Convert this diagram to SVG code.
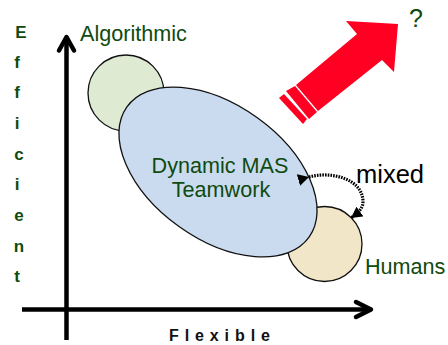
<svg xmlns="http://www.w3.org/2000/svg" width="448" height="345" viewBox="0 0 448 345">
<style>
text{font-family:"Liberation Sans",Arial,sans-serif}
.g{fill:#0f4a0f;font-size:21.600px}
.b{fill:#0f4a0f;font-size:17px;font-weight:bold;text-anchor:middle}
.n{stroke:#111;stroke-width:1.3}
.ax{stroke:#000;stroke-width:4.500;fill:none}
.dot{stroke:#000;stroke-width:3.200;stroke-dasharray:1.600 1.100;fill:none}
</style>
<defs>
<marker id="ah" markerUnits="userSpaceOnUse" markerWidth="14" markerHeight="14" refX="11" refY="6" orient="auto"><path d="M0 0L11 6L0 12Z" fill="#000"/></marker>
</defs>
<g id="axes">
<path class="ax" d="M66.500 340V37"/>
<path class="ax" stroke-linecap="round" stroke-linejoin="round" d="M59 50.500L66.500 37L74 50.500"/>
<path class="ax" d="M22 309.500H370"/>
<path class="ax" stroke-linecap="round" stroke-linejoin="round" d="M356 302L371 309.500L356 317"/>
</g>
<g id="algorithmic">
<circle class="n" cx="126" cy="93" r="38" fill="#deebd2"/>
<text class="g" x="80" y="41">Algorithmic</text>
</g>
<g id="humans">
<circle class="n" cx="324.500" cy="244" r="37.500" fill="#f2e6c9"/>
<text class="g" x="365" y="274">Humans</text>
</g>
<g id="team">
<ellipse class="n" cx="218" cy="172" rx="112" ry="67" transform="rotate(35.600 218 172)" fill="#cadbf0"/>
<text class="g" x="220" y="172.500" text-anchor="middle">Dynamic MAS</text>
<text class="g" x="221" y="196.500" text-anchor="middle">Teamwork</text>
</g>
<g id="connectors">
<path class="dot" marker-start="url(#ah)" marker-end="url(#ah)" d="M309 177C330 171 363 178 363 202C363 208 358 213 351 218"/>
</g>
<text x="356" y="183" style="font-size:25.500px" fill="#000">mixed</text>
<g id="arrow" fill="#ff0022">
<path d="M296 85L357 34L346 21L398 24L394 72L382 60L318 111Z"/>
<path d="M286 91L295 86L317 112L309 119Z"/>
<path d="M279 98L284 94L307 119L303 124Z"/>
</g>
<text x="409" y="27" style="font-size:25px" fill="#0f4a0f">?</text>
<g id="labels">
<text class="b" x="21" y="38">E</text>
<text class="b" x="17" y="68">f</text>
<text class="b" x="17" y="98">f</text>
<text class="b" x="17" y="129">i</text>
<text class="b" x="19" y="160">c</text>
<text class="b" x="17" y="190">i</text>
<text class="b" x="19" y="221">e</text>
<text class="b" x="19" y="252">n</text>
<text class="b" x="17" y="282">t</text>
<text x="169" y="341" style="font-size:16px;font-weight:bold;letter-spacing:5.900px" fill="#111">Flexible</text>
</g>
</svg>
